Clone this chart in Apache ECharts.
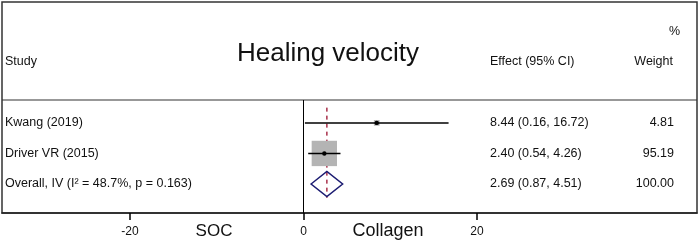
<!DOCTYPE html>
<html>
<head>
<meta charset="utf-8">
<script src="https://cdn.jsdelivr.net/npm/echarts@6/dist/echarts.min.js"></script>
<style>
  html, body { margin: 0; padding: 0; background: #fff; }
  #chart { width: 700px; height: 243px; }
</style>
</head>
<body>
<div id="chart"></div>
<script>
// forest plot data
const studies = ['Kwang (2019)', 'Driver VR (2015)']
const effects = [8.44, 2.40]
const lower = [0.16, 0.54]
const upper = [16.72, 4.26]
const weights = [4.81, 95.19]
const overallLabel = 'Overall, IV (I\u00b2 = 48.7%, p = 0.163)'
const overallEffect = [2.69, 0.87, 4.51]
const overallWeight = 100.00
const tickValues = [-20, 0, 20]

const FONT = '"Liberation Sans", Arial, sans-serif'
const SMALL = 12.5
const maxWeight = Math.max(...weights)

// rows: [row, est, lo, hi, weight, kind]
const rows = studies.map((s, i) => [i, effects[i], lower[i], upper[i], weights[i], 0])
rows.push([studies.length, overallEffect[0], overallEffect[1], overallEffect[2], overallWeight, 1])
const labels = studies.concat([overallLabel])

function txt (x, y, text, size, align) {
  return {
    type: 'text',
    x: x,
    y: y,
    style: {
      text: text,
      fill: '#111',
      font: size + 'px ' + FONT,
      textAlign: align || 'left',
      textVerticalAlign: 'middle'
    }
  }
}

function renderRow (params, api) {
  const row = api.value(0)
  const est = api.value(1)
  const lo = api.value(2)
  const hi = api.value(3)
  const w = api.value(4)
  const kind = api.value(5)
  const c = api.coord([est, row])
  const pl = api.coord([lo, row])
  const ph = api.coord([hi, row])
  const unit = api.size([0, 1])[1]
  const children = []
  if (kind === 0) {
    const s = Math.sqrt(w / maxWeight) * unit * 0.83
    children.push({
      type: 'rect',
      shape: { x: c[0] - s / 2, y: c[1] - s / 2, width: s, height: s },
      style: { fill: '#b4b4b4' }
    })
    children.push({
      type: 'line',
      shape: { x1: pl[0], y1: pl[1], x2: ph[0], y2: ph[1] },
      style: { stroke: '#000', lineWidth: 1.5 }
    })
    children.push({
      type: 'circle',
      shape: { cx: c[0], cy: c[1], r: 2.2 },
      style: { fill: '#000' }
    })
  } else {
    const top = api.coord([est, row - 0.41])
    const bot = api.coord([est, row + 0.41])
    children.push({
      type: 'polygon',
      shape: { points: [pl, top, ph, bot] },
      style: { fill: 'none', stroke: '#1c1c72', lineWidth: 1.5 }
    })
  }
  const effText = est.toFixed(2) + ' (' + lo.toFixed(2) + ', ' + hi.toFixed(2) + ')'
  children.push(txt(5, c[1], labels[params.dataIndex], SMALL))
  children.push(txt(490, c[1], effText, SMALL))
  children.push(txt(674, c[1], w.toFixed(2), SMALL, 'right'))
  return { type: 'group', children: children }
}

const option = {
  animation: false,
  backgroundColor: '#fff',
  grid: { left: 2, right: 3, top: 100, bottom: 30 },
  xAxis: {
    type: 'value',
    min: -34.76,
    max: 45.36,
    axisLine: { show: true, onZero: false, lineStyle: { color: '#222', width: 1.5 } },
    axisTick: { show: true, customValues: tickValues, length: 7, lineStyle: { color: '#000', width: 1.5 } },
    axisLabel: { customValues: tickValues, color: '#111', fontSize: 12, fontFamily: FONT, margin: 13 },
    splitLine: { show: false }
  },
  yAxis: {
    type: 'value',
    min: -0.75,
    max: 2.95,
    inverse: true,
    show: false
  },
  graphic: [
    {
      type: 'rect',
      shape: { x: 2, y: 2, width: 695, height: 211 },
      style: { fill: 'none', stroke: '#333', lineWidth: 1.5 }
    },
    {
      type: 'line',
      shape: { x1: 2, y1: 100, x2: 697, y2: 100 },
      style: { stroke: '#333', lineWidth: 1.2 }
    },
    txt(328, 54, 'Healing velocity', 26, 'center'),
    txt(5, 62, 'Study', SMALL),
    txt(490, 62, 'Effect (95% CI)', SMALL),
    txt(673, 62, 'Weight', SMALL, 'right'),
    txt(680, 32, '%', SMALL, 'right'),
    txt(214, 231, 'SOC', 17, 'center'),
    txt(388, 231, 'Collagen', 18, 'center')
  ],
  series: [
    {
      type: 'line',
      data: [[overallEffect[0], -0.5], [overallEffect[0], 2.45]],
      symbol: 'none',
      lineStyle: { color: '#a8304a', width: 1.5, type: [4, 4] },
      markLine: {
        silent: true,
        symbol: 'none',
        label: { show: false },
        lineStyle: { color: '#000', width: 1, type: 'solid' },
        data: [{ xAxis: 0 }]
      },
      z: 2
    },
    {
      type: 'custom',
      clip: false,
      renderItem: renderRow,
      encode: { x: [1, 2, 3], y: 0 },
      data: rows,
      z: 3
    }
  ]
}

const myChart = echarts.init(document.getElementById('chart'))
myChart.setOption(option, true)
window.addEventListener('resize', function () {
  myChart.resize()
})
</script>
</body>
</html>
